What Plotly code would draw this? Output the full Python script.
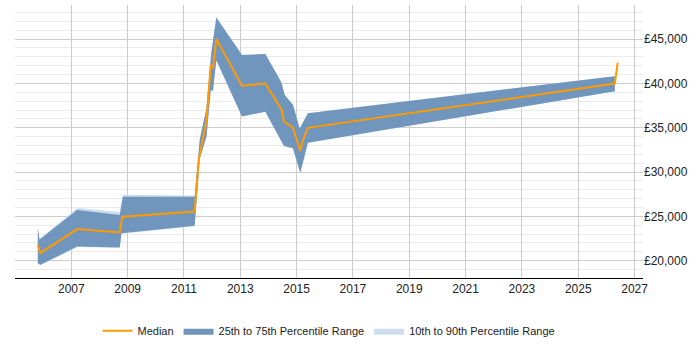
import plotly.graph_objects as go

# Median series (fractional year, salary)
med_x = [2005.81, 2005.90, 2007.21, 2008.72, 2008.81, 2011.38, 2011.53, 2011.80, 2011.95, 2012.03,
         2012.15, 2013.06, 2013.89, 2014.48, 2014.55, 2014.87, 2015.13, 2015.23, 2015.40, 2026.30, 2026.40]
med_y = [21790, 20860, 23570, 23190, 24970, 25550, 31510, 35800, 42070, 41710,
         45030, 39740, 39990, 36950, 35700, 35020, 32410, 33660, 34990, 39990, 42350]

# 25th-75th percentile band
p75_x = [2005.81, 2005.87, 2007.21, 2008.72, 2008.83, 2011.38, 2011.56, 2011.80, 2011.97, 2012.15,
         2013.06, 2013.89, 2014.46, 2014.58, 2014.87, 2015.11, 2015.40, 2026.30]
p75_y = [23650, 22390, 25720, 25150, 27220, 27220, 33660, 37240, 43500, 47440,
         43210, 43320, 40100, 38670, 37600, 34920, 36630, 40820]
p25_x = [2005.81, 2005.90, 2007.21, 2008.72, 2008.78, 2011.38, 2011.56, 2011.80, 2011.95, 2012.03,
         2012.15, 2013.06, 2013.89, 2014.55, 2014.87, 2015.13, 2015.40, 2026.30]
p25_y = [19710, 19540, 21610, 21500, 23110, 23940, 31510, 34020, 39210, 39210,
         42610, 36280, 36810, 32950, 32690, 29900, 33300, 39130]

# 10th-90th percentile band
p90_x = p75_x
p90_y = [23650, 22450, 25950, 25500, 27450, 27350, 33660, 37240, 43500, 47440,
         43210, 43320, 40100, 38670, 37600, 34920, 36630, 40820]
p10_x = p25_x
p10_y = [19650, 19480, 21550, 21450, 23050, 23900, 31510, 34020, 39210, 39210,
         42610, 36280, 36810, 32950, 32690, 29900, 33300, 39130]

x_ticks = list(range(2007, 2028, 2))
y_ticks = [20000, 25000, 30000, 35000, 40000, 45000]
y_labels = ["£20,000", "£25,000", "£30,000", "£35,000", "£40,000", "£45,000"]

fig = go.Figure()
fig.add_trace(go.Scatter(
    x=p90_x + p10_x[::-1], y=p90_y + p10_y[::-1], fill="toself", mode="lines",
    line=dict(width=0, color="rgba(198,217,238,1)"), fillcolor="rgba(198,217,238,0.9)",
    name="10th to 90th Percentile Range", hoverinfo="skip"))
fig.add_trace(go.Scatter(
    x=p75_x + p25_x[::-1], y=p75_y + p25_y[::-1], fill="toself", mode="lines",
    line=dict(width=0, color="#7096be"), fillcolor="#7096be",
    name="25th to 75th Percentile Range", hoverinfo="skip"))
fig.add_trace(go.Scatter(
    x=med_x, y=med_y, mode="lines", line=dict(color="#ff9a00", width=2),
    name="Median"))

fig.update_layout(
    width=700, height=350,
    margin=dict(l=15, r=57, t=5, b=58),
    paper_bgcolor="white", plot_bgcolor="white",
    font=dict(family="Liberation Sans, Arial", size=12, color="#222"),
    showlegend=True,
    legend=dict(orientation="h", x=0.5, xanchor="center", y=-0.14, yanchor="top",
                traceorder="reversed", font=dict(size=11, color="#222"),
                itemwidth=30),
    xaxis=dict(range=[2005.0, 2027.3], tickvals=x_ticks, ticktext=[str(t) for t in x_ticks],
               showgrid=True, gridcolor="#cccccc", gridwidth=1,
               showline=True, linecolor="#000", linewidth=1, zeroline=False,
               ticks="", fixedrange=True),
    yaxis=dict(range=[18050, 48850], side="right", tickvals=y_ticks, ticktext=y_labels,
               showgrid=True, gridcolor="#cccccc", gridwidth=1, zeroline=False,
               minor=dict(dtick=1000, tick0=0, showgrid=True, gridcolor="#ebebeb"),
               ticks="", showline=False, fixedrange=True),
)

fig.write_html("out.html")
